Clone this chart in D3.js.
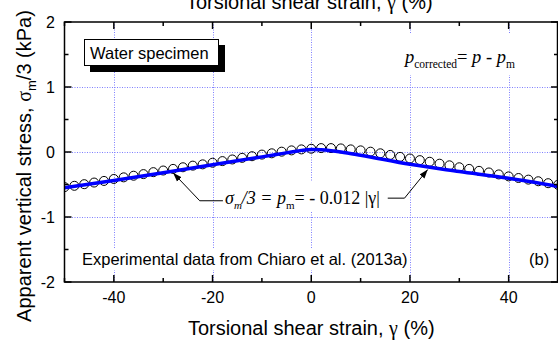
<!DOCTYPE html>
<html>
<head>
<meta charset="utf-8">
<script src="https://cdn.jsdelivr.net/npm/d3@7"></script>
<style>
  body { margin: 0; background: #fff; }
  svg { display: block; }
  text { font-family: "Liberation Sans", Arial, sans-serif; fill: #000; }
  .serif, .greek { font-family: "Liberation Serif", "Times New Roman", serif; }
</style>
</head>
<body>
<svg id="chart" width="558" height="340"></svg>
<script>
// measured strain (%) and apparent vertical stress (kPa)
const strain = [-50, -48, -46, -44, -42, -40, -38, -36, -34, -32, -30, -28, -26, -24, -22, -20, -18, -16, -14, -12, -10,
  -8, -6, -4, -2, 0, 2, 4, 6, 8, 10, 12, 14, 16, 18, 20, 22, 24, 26, 28, 30, 32, 34, 36, 38, 40, 42, 44, 46, 48, 50];
const stress = [-0.54, -0.52, -0.495, -0.47, -0.445, -0.415, -0.39, -0.365, -0.34, -0.31, -0.285, -0.26, -0.235, -0.21,
  -0.19, -0.165, -0.14, -0.115, -0.09, -0.065, -0.04, -0.02, 0.005, 0.025, 0.04, 0.05, 0.06, 0.06, 0.055, 0.04, 0.025,
  0.005, -0.02, -0.045, -0.075, -0.1, -0.125, -0.15, -0.18, -0.205, -0.235, -0.26, -0.29, -0.315, -0.345, -0.375, -0.4,
  -0.425, -0.45, -0.48, -0.505];

// fitted line sigma_m/3 = -0.012|gamma|
const fitStrain = [-50, -40, -30, -20, -10, -6, -4, -2, 0, 2, 4, 6, 10, 20, 30, 40, 50];
const fitStress = [-0.55, -0.44, -0.32, -0.195, -0.075, -0.025, 0.0, 0.025, 0.04, 0.035, 0.02, 0.0, -0.05, -0.19, -0.3, -0.405, -0.53];

const xMajor = [-40, -20, 0, 20, 40];
const xMinor = [-50, -30, -10, 10, 30, 50];
const yMajor = [-2, -1, 0, 1, 2];
const yMinor = [-1.5, -0.5, 0.5, 1.5];
const xGrid = [-40, -20, 0, 20, 40];
const yGrid = [-1, 0, 1];

const svg = d3.select('#chart');
const m = {top: 22, right: 0, bottom: 58, left: 64.5};
const W = 558, H = 340;
const w = W - m.left - m.right;
const h = H - m.top - m.bottom;

const x = d3.scaleLinear().domain([-50, 50]).range([m.left, m.left + w]);
const y = d3.scaleLinear().domain([-2, 2]).range([m.top + h, m.top]);

svg.append('defs').append('clipPath').attr('id', 'plot')
  .append('rect').attr('x', m.left).attr('y', m.top).attr('width', w).attr('height', h);

svg.append('defs').append('marker')
  .attr('id', 'arrow').attr('viewBox', '0 0 10 10').attr('refX', 10).attr('refY', 5)
  .attr('markerWidth', 9).attr('markerHeight', 9).attr('markerUnits', 'userSpaceOnUse')
  .attr('orient', 'auto')
  .append('path').attr('d', 'M0,1.5L10,5L0,8.5Z').attr('fill', '#000');

// grid
const grid = svg.append('g').attr('stroke', '#7f7fff').attr('stroke-width', 1).attr('stroke-dasharray', '1,1.5');
grid.selectAll('.gx').data(xGrid).enter().append('line')
  .attr('x1', d => Math.round(x(d)) + 0.5).attr('x2', d => Math.round(x(d)) + 0.5)
  .attr('y1', m.top).attr('y2', m.top + h);
grid.selectAll('.gy').data(yGrid).enter().append('line')
  .attr('y1', d => Math.round(y(d)) + 0.5).attr('y2', d => Math.round(y(d)) + 0.5)
  .attr('x1', m.left).attr('x2', m.left + w);

// white backgrounds of the labels hide the grid
svg.append('rect').attr('x', 400).attr('y', 33).attr('width', 124).attr('height', 42).attr('fill', '#fff');
svg.append('rect').attr('x', 80).attr('y', 249).attr('width', 330).attr('height', 21).attr('fill', '#fff');
svg.append('rect').attr('x', 222).attr('y', 181).attr('width', 164).attr('height', 31).attr('fill', '#fff');

// data
const plot = svg.append('g').attr('clip-path', 'url(#plot)');
plot.selectAll('circle').data(strain).enter().append('circle')
  .attr('cx', d => x(d))
  .attr('cy', (d, i) => y(stress[i]))
  .attr('r', 4.5)
  .attr('fill', 'none')
  .attr('stroke', '#000')
  .attr('stroke-width', 1);

const fit = d3.line()
  .x(d => x(d))
  .y((d, i) => y(fitStress[i]))
  .curve(d3.curveMonotoneX);
plot.append('path').datum(fitStrain)
  .attr('d', fit)
  .attr('fill', 'none')
  .attr('stroke', '#0000ff')
  .attr('stroke-width', 3.5);

// axes, ticks pointing inward
const ax = svg.append('g').attr('stroke', '#000');
ax.append('rect').attr('x', m.left).attr('y', m.top).attr('width', w - 0.5).attr('height', h)
  .attr('fill', 'none').attr('stroke-width', 1.5);

function xTicks(vals, len) {
  ax.selectAll(null).data(vals).enter().append('line')
    .attr('x1', d => x(d)).attr('x2', d => x(d))
    .attr('y1', m.top + h).attr('y2', m.top + h - len).attr('stroke-width', 1.5);
  ax.selectAll(null).data(vals).enter().append('line')
    .attr('x1', d => x(d)).attr('x2', d => x(d))
    .attr('y1', m.top).attr('y2', m.top + len).attr('stroke-width', 1.5);
}
function yTicks(vals, len) {
  ax.selectAll(null).data(vals).enter().append('line')
    .attr('y1', d => y(d)).attr('y2', d => y(d))
    .attr('x1', m.left).attr('x2', m.left + len).attr('stroke-width', 1.5);
  ax.selectAll(null).data(vals).enter().append('line')
    .attr('y1', d => y(d)).attr('y2', d => y(d))
    .attr('x1', m.left + w).attr('x2', m.left + w - len).attr('stroke-width', 1.5);
}
xTicks(xMajor, 7);
xTicks(xMinor, 4);
yTicks(yMajor, 7);
yTicks(yMinor, 4);

svg.append('g').selectAll('text').data(xMajor).enter().append('text')
  .attr('x', d => x(d)).attr('y', 303)
  .attr('text-anchor', 'middle').style('font-size', '16px')
  .text(d => d);
svg.append('g').selectAll('text').data(yMajor).enter().append('text')
  .attr('x', 55).attr('y', d => y(d) + 5.5)
  .attr('text-anchor', 'end').style('font-size', '16px')
  .text(d => d);

// axis titles (bottom and the clipped copy on top)
[[x(0), 335], [x(0) - 2, 9]].forEach(function(p) {
  const t = svg.append('text').attr('x', p[0]).attr('y', p[1])
    .attr('text-anchor', 'middle').style('font-size', '20px');
  t.append('tspan').text('Torsional shear strain, ');
  t.append('tspan').attr('class', 'greek').text('γ');
  t.append('tspan').text(' (%)');
});

const yt = svg.append('text')
  .attr('transform', 'translate(31,166) rotate(-90)')
  .attr('text-anchor', 'middle').style('font-size', '20px');
yt.append('tspan').text('Apparent vertical stress, ');
yt.append('tspan').attr('class', 'greek').text('σ');
yt.append('tspan').attr('dy', 5).style('font-size', '13px').text('m');
yt.append('tspan').attr('dy', -5).text('/3 (kPa)');

// "Water specimen" box with shadow
svg.append('rect').attr('x', 90).attr('y', 45).attr('width', 135).attr('height', 27).attr('fill', '#000');
svg.append('rect').attr('x', 84.5).attr('y', 39.5).attr('width', 134).attr('height', 26)
  .attr('fill', '#fff').attr('stroke', '#000').attr('stroke-width', 1);
svg.append('text').attr('x', 90).attr('y', 58.5).style('font-size', '16.5px').text('Water specimen');

// p_corrected = p - p_m
const pc = svg.append('text').attr('class', 'serif').attr('x', 405).attr('y', 63).style('font-size', '18.5px');
pc.append('tspan').style('font-style', 'italic').text('p');
pc.append('tspan').attr('dy', 5).style('font-size', '11.5px').text('corrected');
pc.append('tspan').attr('dy', -5).text('= ');
pc.append('tspan').style('font-style', 'italic').text('p');
pc.append('tspan').text(' - ');
pc.append('tspan').style('font-style', 'italic').text('p');
pc.append('tspan').attr('dy', 5).style('font-size', '11.5px').text('m');

// fit annotation
const eq = svg.append('text').attr('class', 'serif').attr('x', 225).attr('y', 204).style('font-size', '18px');
eq.append('tspan').style('font-style', 'italic').text('σ');
eq.append('tspan').attr('dy', 5).style('font-size', '11px').style('font-style', 'italic').text('m');
eq.append('tspan').attr('dy', -5).style('font-style', 'italic').text('/3 = p');
eq.append('tspan').attr('dy', 5).style('font-size', '11px').text('m');
eq.append('tspan').attr('dy', -5).text('= - 0.012 |γ|');

const arrows = [
  [[-17.9, -0.75], [-22.6, -0.75], [-28, -0.32]],
  [[15.5, -0.71], [18.9, -0.71], [23.6, -0.27]]
];
svg.append('g').selectAll('path').data(arrows).enter().append('path')
  .attr('d', d => d3.line().x(p => x(p[0])).y(p => y(p[1]))(d))
  .attr('fill', 'none').attr('stroke', '#000').attr('stroke-width', 1)
  .attr('marker-end', 'url(#arrow)');

svg.append('text').attr('x', 82).attr('y', 265).style('font-size', '16.5px')
  .text('Experimental data from Chiaro et al. (2013a)');
svg.append('text').attr('x', 529).attr('y', 265).style('font-size', '16.5px').text('(b)');
</script>
</body>
</html>
